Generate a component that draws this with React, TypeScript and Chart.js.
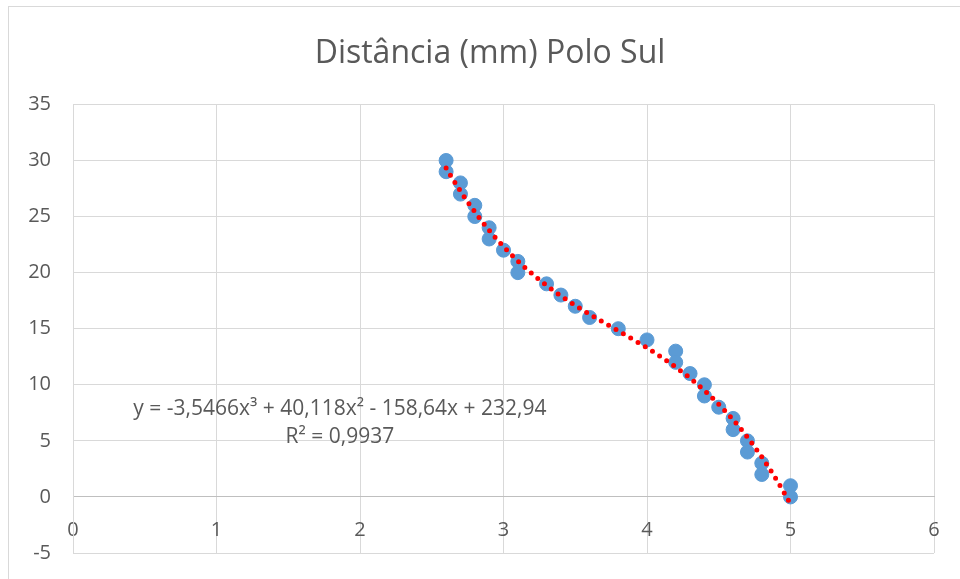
import React, { useEffect, useRef } from "react";
import { Chart, registerables } from "chart.js";

Chart.register(...registerables);

const TITLE = "Distância (mm) Polo Sul";
const xValues = [2.6, 2.6, 2.7, 2.7, 2.8, 2.8, 2.9, 2.9, 3.0, 3.1, 3.1, 3.3, 3.4, 3.5, 3.6, 3.8, 4.0, 4.2, 4.2, 4.3, 4.4, 4.4, 4.5, 4.6, 4.6, 4.7, 4.7, 4.8, 4.8, 5.0, 5.0];
const yValues = [30, 29, 28, 27, 26, 25, 24, 23, 22, 21, 20, 19, 18, 17, 16, 15, 14, 13, 12, 11, 10, 9, 8, 7, 6, 5, 4, 3, 2, 1, 0];
// trendline shown on the chart: y = a3 x^3 + a2 x^2 + a1 x + a0
const trendCoefficients = [-3.5466, 40.118, -158.64, 232.94];
const trendRange = [2.6, 5.0];
const equationLabel = "y = -3,5466x³ + 40,118x² - 158,64x + 232,94";
const r2Label = "R² = 0,9937";
const labelAnchorX = 1.86;
const labelAnchorY = [7.86, 5.35];
const xMin = 0, xMax = 6, xStep = 1;
const yMin = -5, yMax = 35, yStep = 5;

const TEXT = "#595959";
const GRID = "#d9d9d9";
const FONT = "'Open Sans', 'Liberation Sans', sans-serif";

function trendPoints() {
  const pts: { x: number; y: number }[] = [];
  const n = 120;
  for (let i = 0; i <= n; i++) {
    const x = trendRange[0] + ((trendRange[1] - trendRange[0]) * i) / n;
    const [a3, a2, a1, a0] = trendCoefficients;
    pts.push({ x, y: a3 * x * x * x + a2 * x * x + a1 * x + a0 });
  }
  return pts;
}

const frame = {
  id: "frame",
  beforeDraw(chart: any) {
    const ctx = chart.ctx;
    ctx.save();
    ctx.fillStyle = "#ffffff";
    ctx.fillRect(0, 0, chart.width, chart.height);
    ctx.strokeStyle = GRID;
    ctx.lineWidth = 1;
    ctx.strokeRect(8.5, 6.5, chart.width + 10, chart.height + 10);
    ctx.restore();
  },
};

const equation = {
  id: "equation",
  afterDraw(chart: any) {
    const ctx = chart.ctx;
    const xs = chart.scales.x;
    const ys = chart.scales.y;
    ctx.save();
    ctx.fillStyle = TEXT;
    ctx.font = `21px ${FONT}`;
    ctx.textAlign = "center";
    ctx.textBaseline = "middle";
    const cx = xs.getPixelForValue(labelAnchorX);
    ctx.fillText(equationLabel, cx, ys.getPixelForValue(labelAnchorY[0]));
    ctx.fillText(r2Label, cx, ys.getPixelForValue(labelAnchorY[1]));
    ctx.restore();
  },
};

export default function App() {
  const ref = useRef<HTMLCanvasElement | null>(null);
  useEffect(() => {
    if (!ref.current) return;
    const chart = new Chart(ref.current, {
      type: "scatter",
      data: {
        datasets: [
          {
            type: "line",
            label: "trend",
            data: trendPoints(),
            borderColor: "#ff0000",
            borderWidth: 5,
            borderDash: [0, 8.5],
            borderCapStyle: "round",
            pointRadius: 0,
            fill: false,
            tension: 0,
            order: 0,
          } as any,
          {
            label: "data",
            data: xValues.map((x, i) => ({ x, y: yValues[i] })),
            backgroundColor: "#5b9bd5",
            borderColor: "#5b9bd5",
            borderWidth: 1,
            pointRadius: 7,
            order: 1,
          },
        ],
      },
      options: {
        responsive: false,
        animation: false,
        layout: { padding: { left: 20, right: 0, top: 0, bottom: 26 } },
        plugins: {
          legend: { display: false },
          tooltip: { enabled: false },
          title: {
            display: true,
            text: TITLE,
            color: TEXT,
            font: { family: FONT, size: 32, weight: "normal" as any, lineHeight: 1.2 },
            padding: { top: 35, bottom: 31 },
          },
        },
        scales: {
          x: {
            type: "linear",
            position: { y: 0 } as any,
            min: xMin,
            max: xMax,
            afterFit(scale: any) {
              scale.height = 0;
              scale.paddingTop = 0;
              scale.paddingBottom = 0;
              scale.paddingLeft = 0;
              scale.paddingRight = 26;
            },
            ticks: { stepSize: xStep, color: TEXT, font: { family: FONT, size: 20 }, padding: 21 },
            grid: { color: GRID, drawTicks: false },
            border: { color: "#bfbfbf", width: 1 },
          },
          y: {
            type: "linear",
            min: yMin,
            max: yMax,
            afterFit(scale: any) {
              scale.width = 53;
              scale.paddingBottom = 0;
            },
            ticks: { stepSize: yStep, color: TEXT, font: { family: FONT, size: 20 }, padding: 22 },
            grid: { color: GRID, drawTicks: false },
            border: { color: GRID, width: 1 },
          },
        },
      },
      plugins: [frame, equation],
    });
    return () => chart.destroy();
  }, []);
  return (
    <div style={{ position: "fixed", left: 0, top: 0, width: 960, height: 579 }}>
      <canvas ref={ref} width={960} height={579} />
    </div>
  );
}
